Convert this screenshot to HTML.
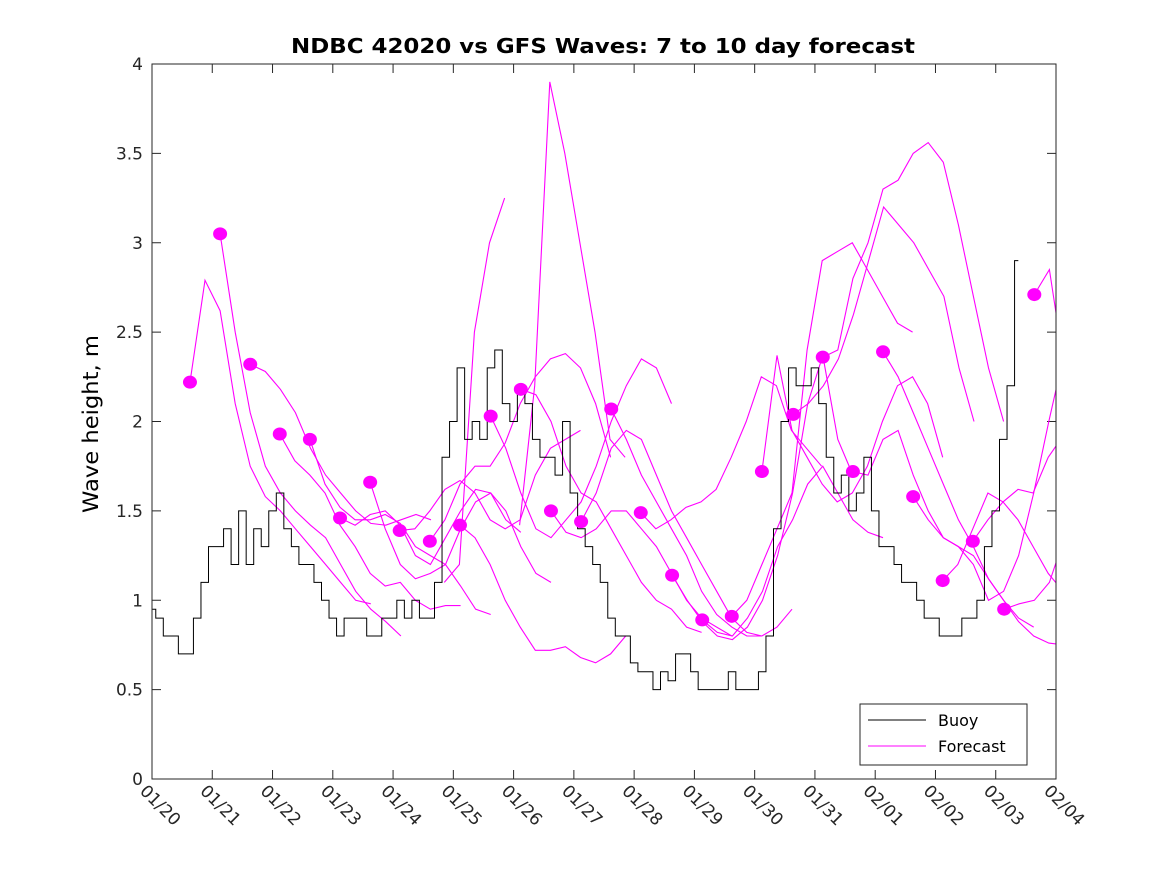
<!DOCTYPE html>
<html><head><meta charset="utf-8"><style>
body{margin:0;background:#fff;}
svg{display:block;font-family:"DejaVu Sans","Liberation Sans",sans-serif;}
</style></head><body>
<svg id="chart" width="1167" height="875" xmlns="http://www.w3.org/2000/svg">
<defs><clipPath id="plotclip"><rect x="152" y="64" width="904" height="715"/></clipPath></defs>
<rect width="1167" height="875" fill="#fff"/>
<text x="291" y="53" font-size="20" font-weight="bold" textLength="624" lengthAdjust="spacingAndGlyphs">NDBC 42020 vs GFS Waves: 7 to 10 day forecast</text>
<text transform="translate(98,513) rotate(-90)" font-size="21" textLength="178" lengthAdjust="spacingAndGlyphs">Wave height, m</text>
<g id="grid"></g><g id="series" clip-path="url(#plotclip)"></g>
<rect x="152" y="64" width="904" height="715" fill="none" stroke="#262626" stroke-width="1"/>
<g>
<rect x="860" y="704" width="167" height="61" fill="#fff" stroke="#262626"/>
<line x1="868" y1="720" x2="926" y2="720" stroke="#000" stroke-width="1"/>
<text x="938" y="726" font-size="16">Buoy</text>
<line x1="868" y1="746" x2="926" y2="746" stroke="#ff00ff" stroke-width="1"/>
<text x="938" y="752" font-size="16">Forecast</text>
</g>
</svg>
<script>
const xTickLabels=["01/20","01/21","01/22","01/23","01/24","01/25","01/26","01/27","01/28","01/29","01/30","01/31","02/01","02/02","02/03","02/04"];
const yTickValues=[0,0.5,1,1.5,2,2.5,3,3.5,4];
const yTickLabels=["0","0.5","1","1.5","2","2.5","3","3.5","4"];
const buoyStep=0.125;
const buoyValues=[0.95,0.9,0.8,0.8,0.7,0.7,0.9,1.1,1.3,1.3,1.4,1.2,1.5,1.2,1.4,1.3,1.5,1.6,1.4,1.3,1.2,1.2,1.1,1.0,0.9,0.8,0.9,0.9,0.9,0.8,0.8,0.9,0.9,1.0,0.9,1.0,0.9,0.9,1.1,1.8,2.0,2.3,1.9,2.0,1.9,2.3,2.4,2.1,2.0,2.2,2.1,1.9,1.8,1.8,1.7,2.0,1.6,1.4,1.3,1.2,1.1,0.9,0.8,0.8,0.65,0.6,0.6,0.5,0.6,0.55,0.7,0.7,0.6,0.5,0.5,0.5,0.5,0.6,0.5,0.5,0.5,0.6,0.8,1.4,2.0,2.3,2.2,2.2,2.3,2.1,1.8,1.6,1.7,1.5,1.6,1.8,1.5,1.3,1.3,1.2,1.1,1.1,1.0,0.9,0.9,0.8,0.8,0.8,0.9,0.9,1.0,1.3,1.5,1.9,2.2,2.9];
const fcStep=0.25;
const fcStarts=[0.63,1.13,1.63,2.12,2.62,3.12,3.62,4.11,4.61,5.11,4.85,6.1,5.62,6.12,6.62,7.12,7.62,8.11,8.63,9.13,9.62,10.12,10.64,11.13,11.63,12.13,12.63,13.12,13.62,14.14,14.64];
const fcDots=[true,true,true,true,true,true,true,true,true,true,false,false,true,true,true,true,true,true,true,true,true,true,true,true,true,true,true,true,true,true,true];
const fcValues=[
[2.22,2.79,2.62,2.1,1.75,1.58,1.5,1.4,1.3,1.2,1.1,1.0,0.98],
[3.05,2.5,2.05,1.75,1.6,1.5,1.42,1.35,1.2,1.05,0.95,0.88,0.8],
[2.32,2.28,2.18,2.05,1.85,1.7,1.6,1.5,1.43,1.42,1.45,1.48,1.45],
[1.93,1.78,1.7,1.6,1.42,1.3,1.15,1.08,1.1,1.0,0.95,0.97,0.97],
[1.90,1.65,1.52,1.45,1.45,1.48,1.43,1.3,1.25,1.2,1.08,0.95,0.92],
[1.46,1.42,1.48,1.5,1.42,1.25,1.2,1.35,1.5,1.62,1.6,1.45,1.38],
[1.66,1.4,1.2,1.12,1.15,1.2,1.4,1.55,1.6,1.5,1.3,1.15,1.1],
[1.39,1.4,1.5,1.62,1.67,1.6,1.45,1.4,1.45,1.7,1.85,1.9,1.95],
[1.33,1.45,1.65,1.75,1.75,1.88,2.1,2.25,2.35,2.38,2.3,2.1,1.8],
[1.42,1.35,1.2,1.0,0.85,0.72,0.72,0.74,0.68,0.65,0.7,0.8],
[1.1,1.2,2.5,3.0,3.25],
[1.42,2.2,3.9,3.5,3.0,2.5,1.9,1.8],
[2.03,1.85,1.6,1.4,1.35,1.45,1.55,1.75,2.0,2.2,2.35,2.3,2.1],
[2.18,2.15,2.0,1.75,1.6,1.55,1.4,1.25,1.1,1.0,0.95,0.85,0.82],
[1.50,1.38,1.35,1.4,1.5,1.5,1.4,1.3,1.15,1.0,0.9,0.85,0.8],
[1.44,1.6,1.85,1.95,1.9,1.7,1.5,1.35,1.2,1.05,0.9,0.82,0.8],
[2.07,1.9,1.7,1.55,1.4,1.25,1.05,0.92,0.85,0.8,0.8,0.85,0.95],
[1.49,1.4,1.45,1.52,1.55,1.62,1.8,2.0,2.25,2.2,1.95,1.85,1.75],
[1.14,1.0,0.88,0.8,0.78,0.85,1.0,1.25,1.6,2.1,2.37,1.9,1.7],
[0.89,0.82,0.8,0.9,1.05,1.3,1.45,1.65,1.75,1.6,1.45,1.38,1.35],
[0.91,1.0,1.2,1.4,1.6,2.4,2.9,2.95,3.0,2.85,2.7,2.55,2.5],
[1.72,2.37,1.95,1.8,1.65,1.55,1.6,1.75,2.0,2.2,2.25,2.1,1.8],
[2.04,2.1,2.2,2.35,2.6,2.9,3.2,3.1,3.0,2.85,2.7,2.3,2.0],
[2.36,2.4,2.8,3.0,3.3,3.35,3.5,3.56,3.45,3.1,2.7,2.3,2.0],
[1.72,1.7,1.9,1.95,1.7,1.5,1.35,1.3,1.25,1.12,1.0,0.9,0.85],
[2.39,2.25,2.05,1.85,1.65,1.45,1.3,1.12,1.0,0.88,0.8,0.76,0.75],
[1.58,1.45,1.35,1.3,1.2,1.0,1.05,1.25,1.6,2.0,2.37,2.23,2.2],
[1.11,1.2,1.4,1.6,1.55,1.45,1.3,1.15,1.05,0.95,0.92],
[1.33,1.45,1.55,1.62,1.6,1.8,1.92,1.92,1.93],
[0.95,0.98,1.0,1.1,1.35,1.5],
[2.71,2.85,2.3,1.95,1.6]
];
const NS="http://www.w3.org/2000/svg";
const X0=152,X1=1056,Y0=779,Y1=64,DAYS=15,YMAX=4;
function xs(d){return X0+(X1-X0)*d/DAYS;}
function ys(v){return Y0-(Y0-Y1)*v/YMAX;}
function mk(tag,attrs,parent){const e=document.createElementNS(NS,tag);for(const k in attrs)e.setAttribute(k,attrs[k]);parent.appendChild(e);return e;}
const grid=document.getElementById('grid'),ser=document.getElementById('series');
xTickLabels.forEach((lab,i)=>{const x=xs(i);
 const t1=mk('line',{x1:x,y1:Y0,x2:x,y2:Y0-9,stroke:'#262626'},grid);
 
 
 const t2=mk('line',{x1:x,y1:Y1,x2:x,y2:Y1+9,stroke:'#262626'},grid);
 
 
 const tx=mk('text',{x:0,y:0,'font-size':17,fill:'#262626',transform:`translate(${x-13},${Y0+13}) rotate(45)`},grid);
 tx.textContent=lab;
 
 
});
yTickValues.forEach((v,i)=>{const y=ys(v);
 const t1=mk('line',{x1:X0,y1:y,x2:X0+9,y2:y,stroke:'#262626'},grid);
 
 
 const t2=mk('line',{x1:X1,y1:y,x2:X1-9,y2:y,stroke:'#262626'},grid);
 
 
 const tx=mk('text',{x:X0-9,y:y+6,'text-anchor':'end','font-size':17,fill:'#262626'},grid);
 tx.textContent=yTickLabels[i];
 
 
});
fcValues.forEach((vals,i)=>{
 const pts=vals.map((v,j)=>xs(fcStarts[i]+j*fcStep).toFixed(1)+','+ys(v).toFixed(1)).join(' ');
 const pl=mk('polyline',{points:pts,fill:'none',stroke:'#ff00ff','stroke-width':1.1},ser);
 
 
});
let d='';
buoyValues.forEach((v,j)=>{const x=xs(j*buoyStep),y=ys(v);
 if(j===0)d+=`M${x},${y}`;else{const xm=xs((j-0.5)*buoyStep);d+=`L${xm},${ys(buoyValues[j-1])}L${xm},${y}L${x},${y}`;}
});
const bp=mk('path',{d:d,fill:'none',stroke:'#000','stroke-width':1},ser);


fcValues.forEach((vals,i)=>{if(!fcDots[i])return;
 const c=mk('ellipse',{cx:xs(fcStarts[i]),cy:ys(vals[0]),rx:7,ry:6.5,fill:'#ff00ff'},ser);
 
 
});
</script>
</body></html>
